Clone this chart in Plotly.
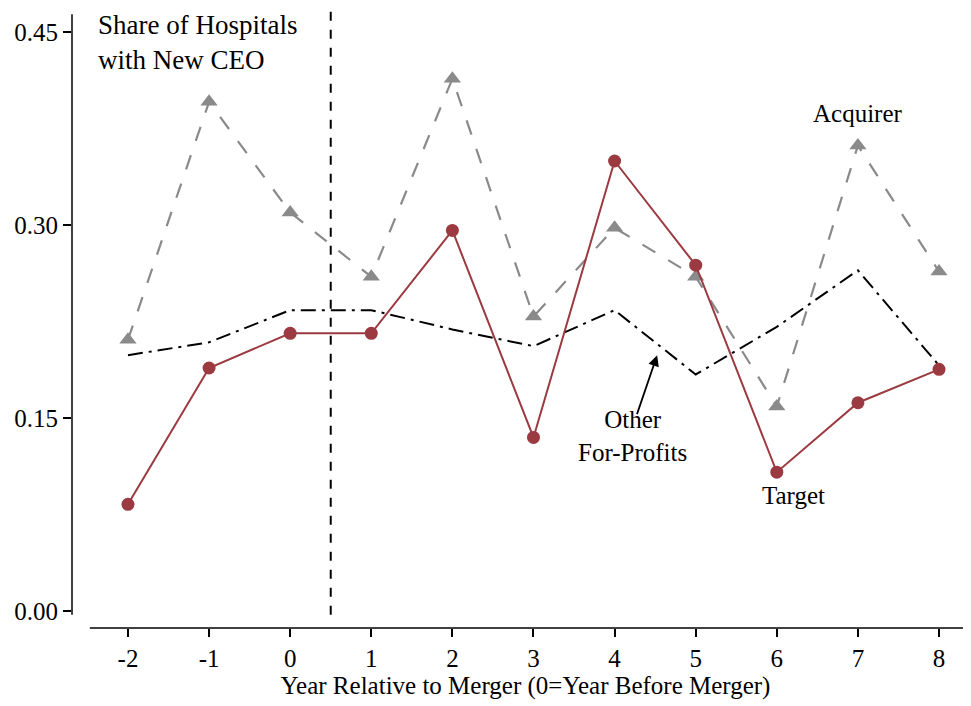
import plotly.graph_objects as go

years = [-2, -1, 0, 1, 2, 3, 4, 5, 6, 7, 8]
acquirer = [0.211, 0.396, 0.310, 0.260, 0.414, 0.229, 0.298, 0.260, 0.159, 0.362, 0.264]
target = [0.083, 0.189, 0.216, 0.216, 0.296, 0.135, 0.350, 0.269, 0.108, 0.162, 0.188]
other = [0.199, 0.209, 0.234, 0.234, 0.219, 0.206, 0.234, 0.184, 0.221, 0.265, 0.191]
ytick_vals = [0.0, 0.15, 0.30, 0.45]
ytick_text = ["0.00", "0.15", "0.30", "0.45"]

FONT = "Liberation Serif"
RED = "#9b3a40"
GRAY = "#8a8a8a"

fig = go.Figure()
fig.add_trace(go.Scatter(x=years, y=other, mode="lines",
                         line=dict(color="black", width=2, dash="longdashdot"),
                         name="Other For-Profits"))
fig.add_trace(go.Scatter(x=years, y=acquirer, mode="lines+markers",
                         line=dict(color=GRAY, width=2.2, dash="longdash"),
                         marker=dict(symbol="triangle-up", size=15, color=GRAY),
                         name="Acquirer"))
fig.add_trace(go.Scatter(x=years, y=target, mode="lines+markers",
                         line=dict(color=RED, width=2),
                         marker=dict(symbol="circle", size=13, color=RED),
                         name="Target"))

# merger line
fig.add_shape(type="line", xref="x", yref="paper", x0=0.5, x1=0.5, y0=0.0213, y1=1.0,
              line=dict(color="black", width=2, dash="dash"))
# axis lines (Stata style)
fig.add_shape(type="line", xref="paper", yref="paper", x0=0, x1=0, y0=0.0213, y1=0.99,
              line=dict(color="black", width=1.5))
fig.add_shape(type="line", xref="x", yref="paper", x0=-2.47, x1=8.6, y0=0, y1=0,
              line=dict(color="black", width=1.5))

fig.add_annotation(x=-2.40, y=1.0, xref="x", yref="paper", text="Share of Hospitals<br>with New CEO",
                   showarrow=False, xanchor="left", yanchor="top", align="left",
                   font=dict(family=FONT, size=27, color="black"))
fig.add_annotation(x=7.0, y=0.387, text="Acquirer", showarrow=False,
                   font=dict(family=FONT, size=25, color="black"))
fig.add_annotation(x=6.2, y=0.090, text="Target", showarrow=False,
                   font=dict(family=FONT, size=25, color="black"))
fig.add_annotation(x=4.22, y=0.136, text="Other<br>For-Profits", showarrow=False,
                   font=dict(family=FONT, size=25, color="black"))
fig.add_annotation(x=4.525, y=0.199, ax=4.27, ay=0.152, xref="x", yref="y", axref="x", ayref="y",
                   text="", showarrow=True, arrowhead=2, arrowsize=1.2, arrowwidth=1.8,
                   arrowcolor="black")

fig.update_layout(
    width=971, height=706,
    margin=dict(l=64, r=0, t=0, b=86),
    paper_bgcolor="white", plot_bgcolor="white",
    showlegend=False,
    font=dict(family=FONT, size=25, color="black"),
    xaxis=dict(range=[-2.69, 8.493], tickvals=years, ticktext=[str(v) for v in years],
               ticks="outside", ticklen=8, tickwidth=1.5, tickcolor="black",
               showgrid=False, zeroline=False, showline=False,
               title=dict(text="Year Relative to Merger (0=Year Before Merger)",
                          font=dict(family=FONT, size=25), standoff=4),
               tickfont=dict(family=FONT, size=25)),
    yaxis=dict(range=[-0.0132, 0.469], tickvals=ytick_vals, ticktext=ytick_text,
               ticks="outside", ticklen=8, tickwidth=1.5, tickcolor="black",
               showgrid=False, zeroline=False, showline=False,
               tickfont=dict(family=FONT, size=25)),
)

fig.write_html("out.html")
